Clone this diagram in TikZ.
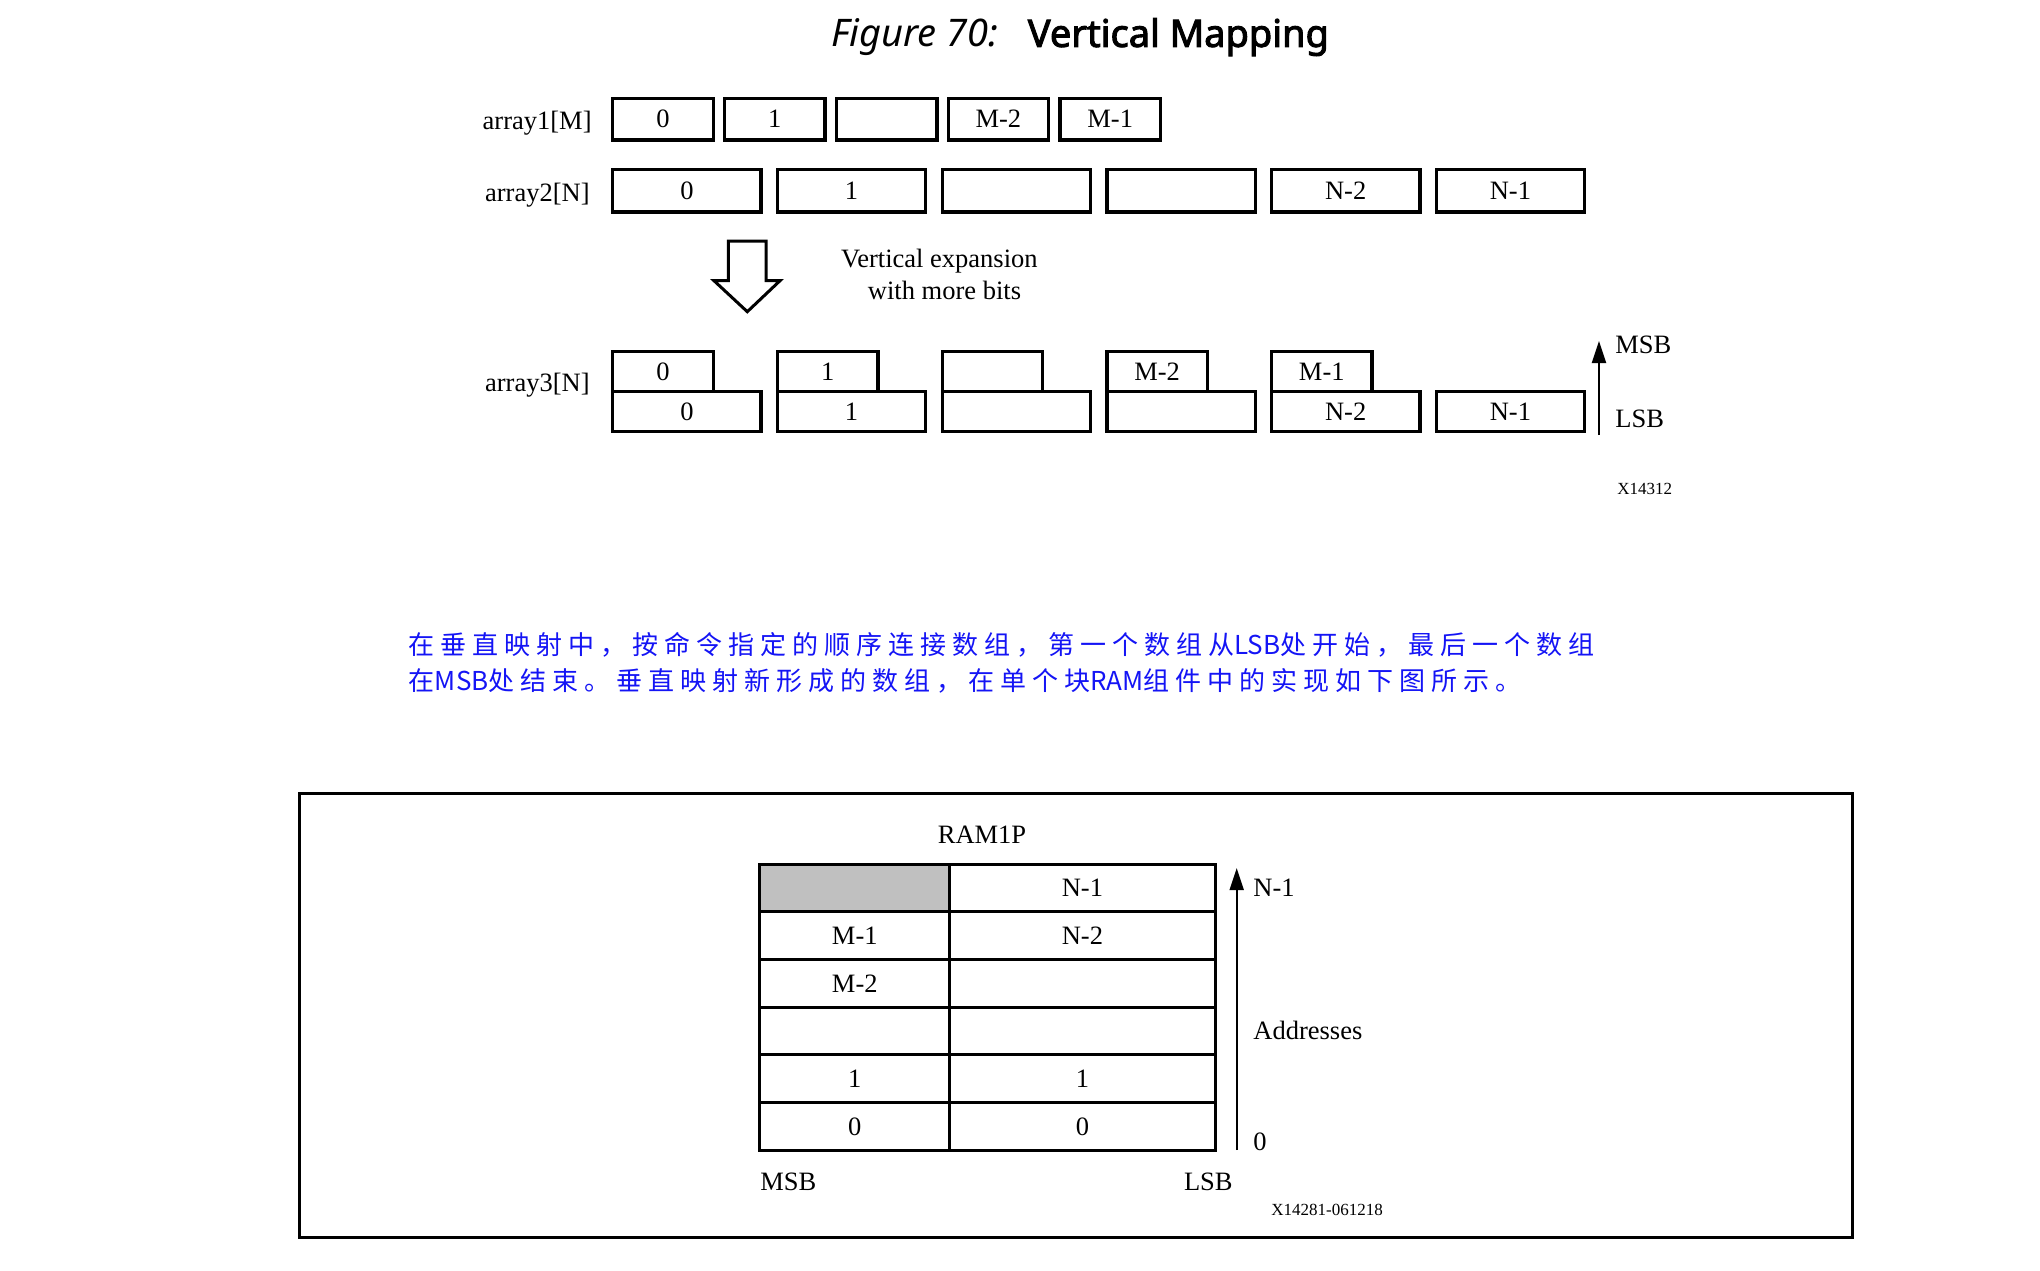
\documentclass[tikz,border=0pt]{standalone}
\usepackage{fontspec}
\setmainfont{Liberation Serif}
\newfontfamily\notosans{Noto Sans}
\newfontfamily\notobold[FakeBold=2.6]{Noto Sans}
\newfontfamily\cjk[LetterSpace=23]{Noto Sans CJK SC}
\newfontfamily\cjklat{Noto Sans CJK SC}
\usetikzlibrary{arrows.meta}
\definecolor{cellgrey}{RGB}{192,192,192}
\definecolor{noteblue}{RGB}{20,20,245}
\newcommand{\latin}[1]{{\cjklat #1}}
\begin{document}
\begin{tikzpicture}[x=0.5pt,y=-0.5pt,
  lab/.style={font=\fontsize{13.25}{15}\selectfont, inner sep=0pt},
  tiny/.style={font=\fontsize{8.5}{10}\selectfont, inner sep=0pt},
  box1/.style={draw, line width=1.65pt, minimum width=50.25pt, minimum height=20.75pt, inner sep=0pt, lab},
  box2/.style={draw, line width=1.65pt, minimum width=74.15pt, minimum height=21.25pt, inner sep=0pt, lab},
  box3t/.style={draw, line width=1.65pt, minimum width=50.25pt, minimum height=20pt, inner sep=0pt, lab},
  box3b/.style={draw, line width=1.65pt, minimum width=74.15pt, minimum height=20pt, inner sep=0pt, lab},
  cellA/.style={draw, line width=1.5pt, minimum width=94.95pt, minimum height=23.85pt, inner sep=0pt, lab},
  cellB/.style={draw, line width=1.5pt, minimum width=132.7pt, minimum height=23.85pt, inner sep=0pt, lab},
  uparrow/.style={line width=1pt, -{Triangle[length=11pt,width=7pt]}},
  note/.style={font=\cjk\fontsize{13}{15}\selectfont, text=noteblue, inner sep=0pt, anchor=west}
]
\useasboundingbox (0,0) rectangle (2040,1270);

% title
\node[font=\fontsize{19}{22}\selectfont, inner sep=0pt] (title) at (1080,37)
  {{\notosans\itshape Figure 70:}\hspace{15pt}{\notobold Vertical Mapping}};

% row labels
\node[lab, anchor=base east] (l1) at (592,129) {array1[M]};
\node[lab, anchor=base east] (l2) at (590,201) {array2[N]};
\node[lab, anchor=base east] (l3) at (590,391) {array3[N]};

% array1
\foreach \t [count=\i from 0] in {0,1,{},M-2,M-1}
  \node[box1] (a1-\i) at ({663+111.8*\i},119.2) {\t};
% array2
\foreach \t [count=\i from 0] in {0,1,{},{},N-2,N-1}
  \node[box2] (a2-\i) at ({686.9+164.7*\i},190.8) {\t};
% array3 lower
\foreach \t [count=\i from 0] in {0,1,{},{},N-2,N-1}
  \node[box3b] (a3b-\i) at ({686.9+164.7*\i},411.7) {\t};
% array3 upper
\foreach \t [count=\i from 0] in {0,1,{},M-2,M-1}
  \node[box3t] (a3t-\i) at ({663+164.7*\i},371.7) {\t};

% hollow down arrow
\draw[line width=1.5pt, line join=miter] (728.3,241) -- (766,241) -- (766,280.7) -- (780,280.7)
  -- (747.3,311.7) -- (714,280.7) -- (728.3,280.7) -- cycle;
\node[lab] (exp1) at (939.4,261.5) {Vertical expansion};
\node[lab] (exp2) at (944.5,290) {with more bits};

% MSB / LSB arrow
\coordinate (bitlo) at (1599,435);
\coordinate (bithi) at (1599,341);
\draw[uparrow] (bitlo) -- (bithi);
\node[lab, anchor=base west] (msb1) at (1615,353) {MSB};
\node[lab, anchor=base west] (lsb1) at (1615,427) {LSB};
\node[tiny, anchor=base west] (code1) at (1617,494) {X14312};

% Chinese note
\node[note] (note1) at (408.5,645.3) {在垂直映射中，按命令指定的顺序连接数组，第一个数组从\latin{LSB}处开始，最后一个数组};
\node[note] (note2) at (408.5,680.4) {在\latin{MSB}处结束。垂直映射新形成的数组，在单个块\latin{RAM}组件中的实现如下图所示。};

% bottom frame
\draw[line width=1.5pt] (299,793.6) rectangle (1852.6,1237.3);

\node[lab, anchor=base] (ram) at (982,843) {RAM1P};

% table
\foreach \ta/\tb/\fc [count=\r from 0] in {{}/N-1/cellgrey, M-1/N-2/white, M-2/{}/white, {}/{}/white, 1/1/white, 0/0/white} {
  \node[cellA, fill=\fc] (cA-\r) at (854.8,{887.85+47.7*\r}) {\ta};
  \node[cellB] (cB-\r) at (1082.4,{887.85+47.7*\r}) {\tb};
}

% address arrow
\coordinate (adlo) at (1236.7,1150);
\coordinate (adhi) at (1236.7,868);
\draw[uparrow] (adlo) -- (adhi);
\node[lab, anchor=base west] (adn) at (1253,896.7) {N-1};
\node[lab, anchor=base west] (adr) at (1253,1039.3) {Addresses};
\node[lab, anchor=base west] (ad0) at (1253,1150) {0};

\node[lab, anchor=base west] (msb2) at (760,1190) {MSB};
\node[lab, anchor=base east] (lsb2) at (1233,1190) {LSB};
\node[tiny, anchor=base west] (code2) at (1271,1215) {X14281-061218};
\end{tikzpicture}
\end{document}
